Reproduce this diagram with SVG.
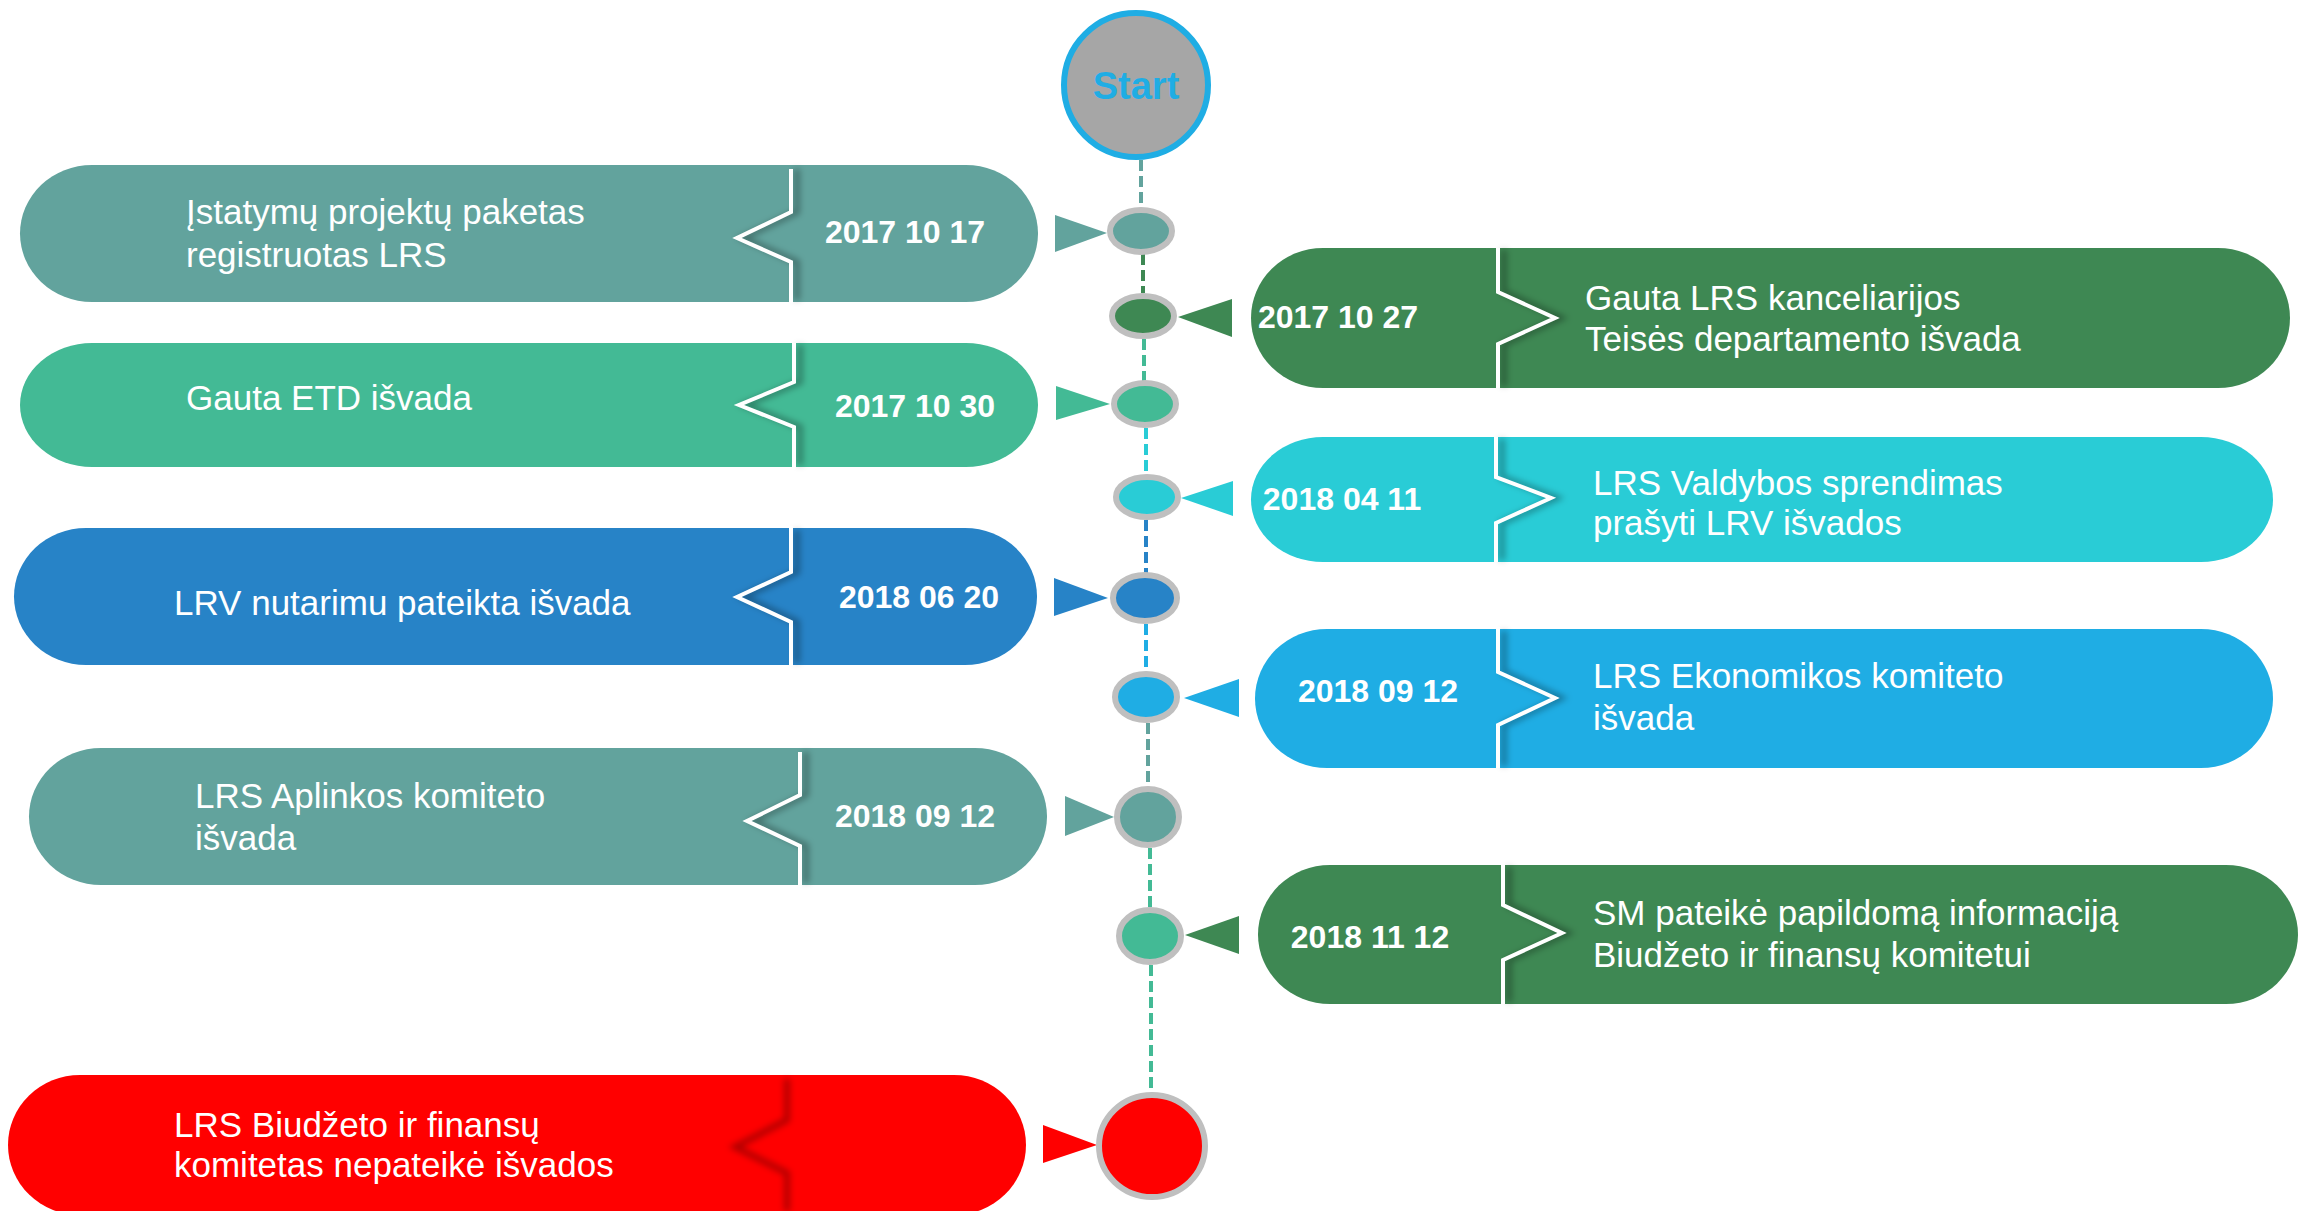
<svg xmlns="http://www.w3.org/2000/svg" width="2312" height="1211" viewBox="0 0 2312 1211">
<style>
.txt{font-family:"Liberation Sans",Arial,sans-serif;font-size:35px;fill:#fff}
.date{font-family:"Liberation Sans",Arial,sans-serif;font-size:32px;font-weight:bold;fill:#fff;text-anchor:middle}
.notch{fill:none;stroke:#fff;stroke-width:4}
.shad{fill:none;stroke:#000;stroke-opacity:0.3;stroke-width:6;filter:url(#blur)}
.dot{stroke:#BFBFBF;stroke-width:6}
.dash{fill:none;stroke-width:4;stroke-dasharray:11 5}
.teal{fill:#62A39D}.dkg{fill:#3E8853}.grn{fill:#43BA95}.cyan{fill:#29CCD6}.blue{fill:#2783C7}.bblue{fill:#1FADE4}.red{fill:#FF0000}
</style>
<defs>
<filter id="blur" x="-50%" y="-10%" width="200%" height="120%"><feGaussianBlur stdDeviation="3"/></filter>
</defs>
<rect width="2312" height="1211" fill="#fff"/>

<g id="connectors">
<line class="dash" x1="1141" y1="160" x2="1141" y2="208" stroke="#62A39D"/>
<line class="dash" x1="1143" y1="254" x2="1143" y2="293" stroke="#3E8853"/>
<line class="dash" x1="1144" y1="339" x2="1144" y2="381" stroke="#43BA95"/>
<line class="dash" x1="1146" y1="428" x2="1146" y2="475" stroke="#29CCD6"/>
<line class="dash" x1="1146" y1="520" x2="1146" y2="573" stroke="#2783C7"/>
<line class="dash" x1="1146" y1="624" x2="1146" y2="672" stroke="#1FADE4"/>
<line class="dash" x1="1148" y1="723" x2="1148" y2="787" stroke="#62A39D"/>
<line class="dash" x1="1150" y1="848" x2="1150" y2="908" stroke="#43BA95"/>
<line class="dash" x1="1151" y1="965" x2="1151" y2="1093" stroke="#43BA95"/>
<polygon class="teal" points="1055,215 1055,252 1107,233"/>
<polygon class="dkg" points="1232,299 1232,337 1178,317"/>
<polygon class="grn" points="1056,386 1056,420 1110,404"/>
<polygon class="cyan" points="1233,481 1233,516 1181,498"/>
<polygon class="blue" points="1054,578 1054,616 1108,598"/>
<polygon class="bblue" points="1239,679 1239,717 1184,698"/>
<polygon class="teal" points="1065,796 1065,836 1114,817"/>
<polygon class="dkg" points="1239,916 1239,954 1185,935"/>
<polygon class="red" points="1043,1125 1043,1163 1097,1145"/>
</g>

<g id="start">
<circle cx="1136" cy="85" r="72" fill="#A6A6A6" stroke="#1FADE4" stroke-width="6"/>
<text x="1136" y="99" font-family="Liberation Sans, Arial, sans-serif" font-size="38" font-weight="bold" fill="#1FADE4" text-anchor="middle">Start</text>
</g>

<g id="dots">
<ellipse class="dot teal" cx="1141" cy="231" rx="31" ry="21"/>
<ellipse class="dot dkg" cx="1143" cy="316" rx="31" ry="20"/>
<ellipse class="dot grn" cx="1145" cy="404" rx="31" ry="21"/>
<ellipse class="dot cyan" cx="1147" cy="497" rx="31" ry="20"/>
<ellipse class="dot blue" cx="1145" cy="598" rx="32" ry="23"/>
<ellipse class="dot bblue" cx="1146" cy="697" rx="31" ry="23"/>
<ellipse class="dot teal" cx="1148" cy="817" rx="31" ry="28"/>
<ellipse class="dot grn" cx="1150" cy="936" rx="31" ry="26"/>
<ellipse class="dot red" cx="1152" cy="1146" rx="53" ry="51"/>
</g>

<g id="n1">
<rect class="teal" x="20" y="165" width="1018" height="137" rx="72" ry="68.5"/>
<path class="shad" d="M797,169 V212 L743,238 L797,262 V300"/>
<path class="notch" d="M791,169 V212 L737,238 L791,262 V303"/>
<text class="txt" x="186" y="224">Įstatymų projektų paketas</text>
<text class="txt" x="186" y="267">registruotas LRS</text>
<text class="date" x="905" y="243">2017 10 17</text>
</g>

<g id="n2">
<rect class="dkg" x="1251" y="248" width="1039" height="140" rx="72" ry="70"/>
<path class="shad" d="M1504,250 V292 L1561,318 L1504,344 V386"/>
<path class="notch" d="M1498,248 V292 L1555,318 L1498,344 V388"/>
<text class="date" x="1338" y="328">2017 10 27</text>
<text class="txt" x="1585" y="310">Gauta LRS kanceliarijos</text>
<text class="txt" x="1585" y="351">Teisės departamento išvada</text>
</g>

<g id="n3">
<rect class="grn" x="20" y="343" width="1018" height="124" rx="72" ry="62"/>
<path class="shad" d="M800,345 V382 L745,405 L800,427 V465"/>
<path class="notch" d="M794,343 V382 L739,405 L794,427 V469"/>
<text class="txt" x="186" y="410">Gauta ETD išvada</text>
<text class="date" x="915" y="417">2017 10 30</text>
</g>

<g id="n4">
<rect class="cyan" x="1251" y="437" width="1022" height="125" rx="72" ry="62.5"/>
<path class="shad" d="M1502,439 V477 L1557,498 L1502,523 V560"/>
<path class="notch" d="M1496,437 V477 L1551,498 L1496,523 V562"/>
<text class="date" x="1342" y="510">2018 04 11</text>
<text class="txt" x="1593" y="495">LRS Valdybos sprendimas</text>
<text class="txt" x="1593" y="535">prašyti LRV išvados</text>
</g>

<g id="n5">
<rect class="blue" x="14" y="528" width="1023" height="137" rx="72" ry="68.5"/>
<path class="shad" d="M797,530 V572 L743,597 L797,622 V663"/>
<path class="notch" d="M791,526 V572 L737,597 L791,622 V666"/>
<text class="txt" x="174" y="615">LRV nutarimu pateikta išvada</text>
<text class="date" x="919" y="608">2018 06 20</text>
</g>

<g id="n6">
<rect class="bblue" x="1255" y="629" width="1018" height="139" rx="72" ry="69.5"/>
<path class="shad" d="M1504,631 V672 L1561,698 L1504,725 V766"/>
<path class="notch" d="M1498,627 V672 L1555,698 L1498,725 V768"/>
<text class="date" x="1378" y="702">2018 09 12</text>
<text class="txt" x="1593" y="688">LRS Ekonomikos komiteto</text>
<text class="txt" x="1593" y="730">išvada</text>
</g>

<g id="n7">
<rect class="teal" x="29" y="748" width="1018" height="137" rx="72" ry="68.5"/>
<path class="shad" d="M806,752 V795 L753,821 L806,846 V883"/>
<path class="notch" d="M800,752 V795 L747,821 L800,846 V887"/>
<text class="txt" x="195" y="808">LRS Aplinkos komiteto</text>
<text class="txt" x="195" y="850">išvada</text>
<text class="date" x="915" y="827">2018 09 12</text>
</g>

<g id="n8">
<rect class="dkg" x="1258" y="865" width="1040" height="139" rx="72" ry="69.5"/>
<path class="shad" d="M1509,867 V905 L1568,933 L1509,960 V1002"/>
<path class="notch" d="M1503,863 V905 L1562,933 L1503,960 V1004"/>
<text class="date" x="1370" y="948">2018 11 12</text>
<text class="txt" x="1593" y="925">SM pateikė papildomą informaciją</text>
<text class="txt" x="1593" y="967">Biudžeto ir finansų komitetui</text>
</g>

<g id="n9">
<rect class="red" x="8" y="1075" width="1018" height="140" rx="72" ry="70"/>
<path class="shad" d="M787,1079 V1120 L735,1147 L787,1173 V1211" stroke-opacity="0.22"/>
<text class="txt" x="174" y="1137">LRS Biudžeto ir finansų</text>
<text class="txt" x="174" y="1177">komitetas nepateikė išvados</text>
</g>
</svg>
